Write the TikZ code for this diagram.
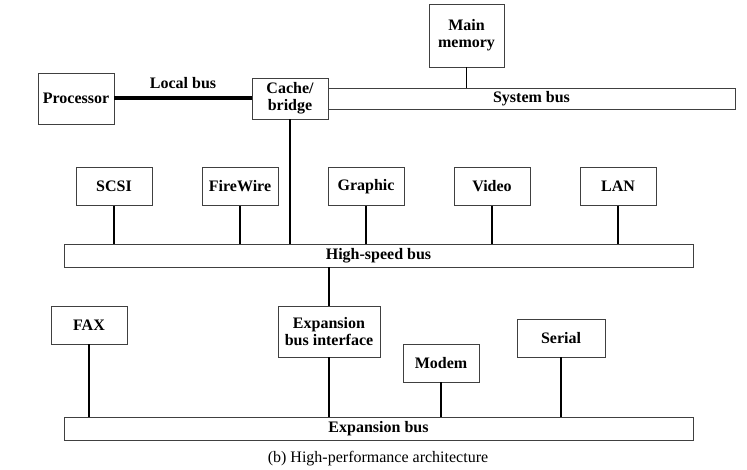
\documentclass[tikz,border=0pt]{standalone}
\usepackage{fontspec}
\setmainfont{Liberation Serif}
\usetikzlibrary{positioning}
\definecolor{boxGray}{gray}{0.25}

\begin{document}
\begin{tikzpicture}[x=1pt, y=-1pt,
    unit/.style={draw=boxGray, line width=0.9pt, fill=white, align=center, inner sep=0pt,
      minimum width=76pt, minimum height=38pt, font=\fontsize{16}{17}\selectfont\bfseries},
    bus/.style={unit, minimum height=23pt},
    wire/.style={line width=1.3pt}]
    \useasboundingbox (0,0) rectangle (747,470);

    % Processor side
    \node[unit, minimum height=51pt] (proc) at (76,98.5) {Processor};
    \node[unit, minimum height=41pt] (cache) at (290,98.5) {Cache/\\bridge};
    \draw[line width=4pt] (proc.east) -- (cache.west) node[midway, above=4pt, font=\fontsize{16}{17}\selectfont\bfseries] (lbus) {Local bus};

    % System bus
    \node[bus, minimum width=407pt, minimum height=21pt] (sysbus) at (531.5,98.5) {System bus};
    \node[unit, minimum width=75pt, minimum height=63pt] (mem) at (466.5,35.5) {Main\\memory};
    \draw[wire] (mem) -- (mem |- sysbus.north);

    % High-speed bus
    \node[bus, minimum width=629pt] (hsbus) at (378.5,255.5) {High-speed bus};
    \draw[wire] (cache) -- (cache |- hsbus.north);
    \node[unit] (scsi) at (114,186.5) {SCSI};
    \node[unit] (firewire) at (240,186.5) {FireWire};
    \node[unit] (graphic) at (366,186.5) {Graphic};
    \node[unit] (video) at (492,186.5) {Video};
    \node[unit] (lan) at (618,186.5) {LAN};
    \foreach \dev in {scsi, firewire, graphic, video, lan}
        \draw[wire] (\dev) -- (\dev |- hsbus.north);

    % Expansion bus
    \node[bus, minimum width=629pt] (expbus) at (378.5,428.5) {Expansion bus};
    \node[unit, minimum width=102pt, minimum height=51pt] (xif) at (329,331.5) {Expansion\\bus interface};
    \draw[wire] (hsbus.south -| xif) -- (xif);
    \node[unit] (fax) at (89,325) {FAX};
    \node[unit] (modem) at (441,363) {Modem};
    \node[unit, minimum width=88pt] (serial) at (561,338) {Serial};
    \foreach \dev in {fax, xif, modem, serial}
        \draw[wire] (\dev) -- (\dev |- expbus.north);

    \node[font=\fontsize{16}{17}\selectfont] (caption) at (378,459) {(b) High-performance architecture};
\end{tikzpicture}
\end{document}
